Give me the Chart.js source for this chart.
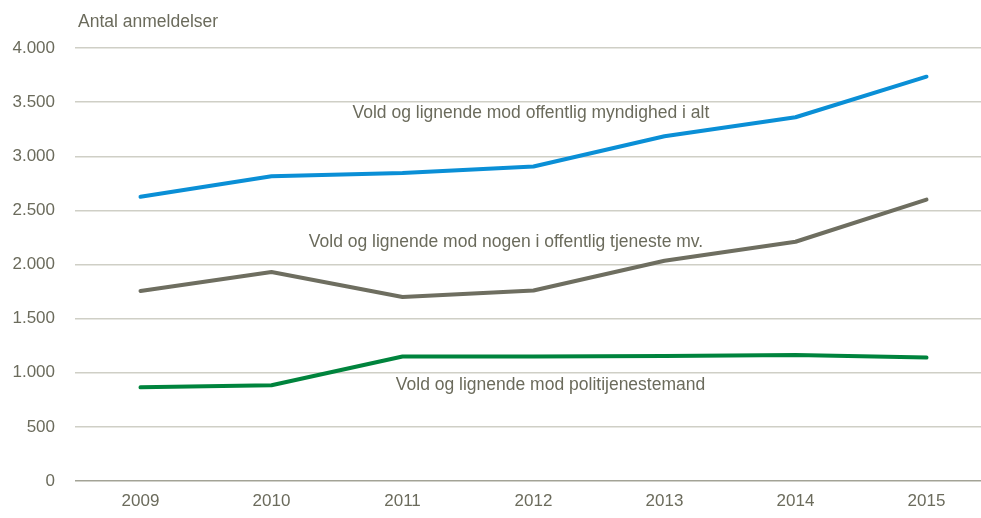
<!DOCTYPE html>
<html>
<head>
<meta charset="utf-8">
<script src="https://cdn.jsdelivr.net/npm/chart.js@4"></script>
<style>
  html, body { margin: 0; padding: 0; background: #fff; overflow: hidden; }
  #wrap { width: 992px; height: 518px; }
</style>
</head>
<body>
<div id="wrap"><canvas id="chart"></canvas></div>
<script>
const years = ["2009", "2010", "2011", "2012", "2013", "2014", "2015"];
const totalValues = [2625, 2815, 2845, 2905, 3185, 3360, 3735];
const serviceValues = [1755, 1930, 1700, 1760, 2035, 2210, 2600];
const policeValues = [865, 885, 1150, 1150, 1155, 1165, 1140];
const seriesNames = [
  "Vold og lignende mod offentlig myndighed i alt",
  "Vold og lignende mod nogen i offentlig tjeneste mv.",
  "Vold og lignende mod politijenestemand"
];
// label anchors: category index, value
const labelX = [2.98, 2.79, 3.13];
const labelY = [3395, 2205, 885];
const yTitle = "Antal anmeldelser";

const textColor = "#6b6b5c";
const fontFamily = "'Liberation Sans Narrow', 'Arial Narrow', Arial, sans-serif";

const seriesLabels = {
  id: "seriesLabels",
  afterDatasetsDraw(chart) {
    const { ctx, scales: { x, y } } = chart;
    ctx.save();
    ctx.fillStyle = textColor;
    ctx.font = "17.5px " + fontFamily;
    ctx.textAlign = "center";
    ctx.textBaseline = "middle";
    seriesNames.forEach((name, i) => {
      ctx.fillText(name, x.getPixelForValue(labelX[i]), y.getPixelForValue(labelY[i]));
    });
    ctx.textAlign = "left";
    ctx.fillText(yTitle, 78, 22);
    ctx.restore();
  }
};

new Chart(document.getElementById("chart"), {
  type: "line",
  data: {
    labels: years,
    datasets: [
      { label: seriesNames[0], data: totalValues, borderColor: "#0a8fd6" },
      { label: seriesNames[1], data: serviceValues, borderColor: "#6e6e60" },
      { label: seriesNames[2], data: policeValues, borderColor: "#00843d" }
    ].map(d => ({ ...d, borderWidth: 4, pointRadius: 0, tension: 0, fill: false, borderCapStyle: "round", borderJoinStyle: "round" }))
  },
  options: {
    responsive: true,
    maintainAspectRatio: false,
    animation: false,
    layout: { padding: { top: 48, left: 0, right: 0, bottom: 0 } },
    plugins: { legend: { display: false }, tooltip: { enabled: false } },
    scales: {
      x: {
        offset: true,
        afterFit: (s) => { s.height = 37; },
        grid: { display: false, drawTicks: false },
        border: { display: false },
        ticks: { color: textColor, font: { family: fontFamily, size: 17 }, padding: 10 }
      },
      y: {
        min: 0,
        max: 4000,
        afterFit: (s) => { s.width = 75; },
        grid: {
          drawTicks: false,
          color: (c) => c.tick && c.tick.value === 0 ? "#a3a396" : "#cfcfc6",
          lineWidth: 1.5
        },
        border: { display: false },
        ticks: {
          stepSize: 500,
          padding: 20,
          color: textColor,
          font: { family: fontFamily, size: 17 },
          callback: (v) => v.toLocaleString("da-DK")
        }
      }
    }
  },
  plugins: [seriesLabels]
});
</script>
</body>
</html>
